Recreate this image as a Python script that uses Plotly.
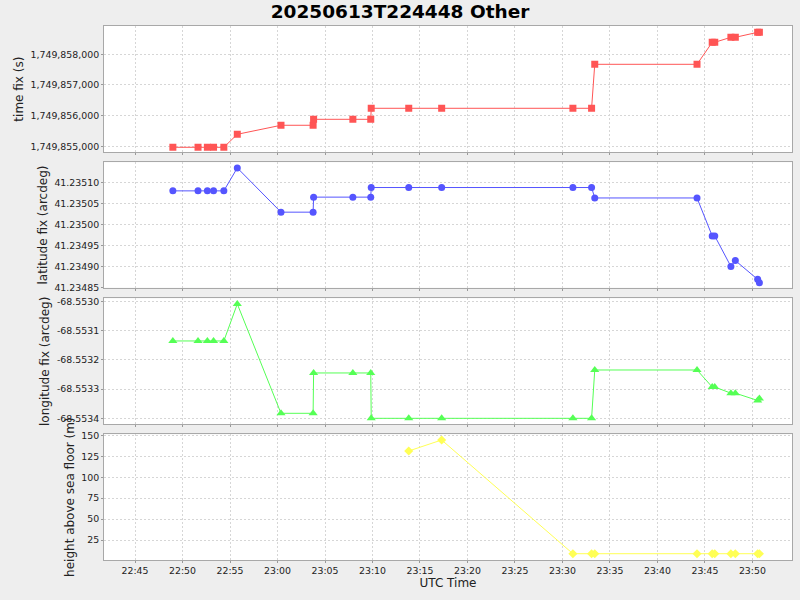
import plotly.graph_objects as go
from plotly.subplots import make_subplots

title_text = "20250613T224448 Other"
day = "2025-06-13 "

times = ["22:48:59", "22:51:38", "22:52:37", "22:53:16", "22:54:21", "22:55:46",
         "23:00:22", "23:03:45", "23:03:48", "23:07:56", "23:09:49", "23:09:52",
         "23:13:49", "23:17:17", "23:31:06", "23:33:04", "23:33:24", "23:44:10",
         "23:45:46", "23:46:02", "23:47:44", "23:48:12", "23:50:33", "23:50:44"]

time_fix = [1749854967, 1749854967, 1749854967, 1749854967, 1749854967, 1749855391,
            1749855685, 1749855685, 1749855880, 1749855880, 1749855880, 1749856239,
            1749856239, 1749856239, 1749856239, 1749856239, 1749857674, 1749857674,
            1749858391, 1749858391, 1749858554, 1749858554, 1749858717, 1749858717]

latitude = [41.235081, 41.235081, 41.235081, 41.235081, 41.235081, 41.235136,
            41.235030, 41.235030, 41.235066, 41.235066, 41.235066, 41.235089,
            41.235089, 41.235089, 41.235089, 41.235089, 41.235064, 41.235064,
            41.234973, 41.234973, 41.234900, 41.234914, 41.234869, 41.234861]

longitude = [-68.5531356, -68.5531356, -68.5531356, -68.5531356, -68.5531356, -68.5530091,
             -68.5533829, -68.5533829, -68.5532450, -68.5532450, -68.5532450, -68.5534000,
             -68.5534000, -68.5534000, -68.5534000, -68.5534000, -68.5532348, -68.5532348,
             -68.5532930, -68.5532930, -68.5533140, -68.5533140, -68.5533390, -68.5533320]

height = [None, None, None, None, None, None,
          None, None, None, None, None, None,
          131.3, 144.4, 8.7, 8.7, 8.7, 8.7,
          8.7, 8.7, 8.7, 8.7, 8.7, 8.7]

time_fix_ticks = [1749855000, 1749856000, 1749857000, 1749858000]
time_fix_labels = ["1,749,855,000", "1,749,856,000", "1,749,857,000", "1,749,858,000"]
lat_ticks = [41.23485, 41.23490, 41.23495, 41.23500, 41.23505, 41.23510]
lat_labels = ["41.23485", "41.23490", "41.23495", "41.23500", "41.23505", "41.23510"]
lon_ticks = [-68.5534, -68.5533, -68.5532, -68.5531, -68.5530]
lon_labels = ["-68.5534", "-68.5533", "-68.5532", "-68.5531", "-68.5530"]
height_ticks = [25, 50, 75, 100, 125, 150]
height_labels = ["25", "50", "75", "100", "125", "150"]

y_titles = ["time fix (s)", "latitude fix (arcdeg)", "longitude fix (arcdeg)",
            "height above sea floor (m)"]
x_title = "UTC Time"

x = [day + t for t in times]

FONT = "DejaVu Sans"
TICK_FONT = dict(family=FONT, size=9.4, color="#222222")
fig = make_subplots(rows=4, cols=1, shared_xaxes=True, vertical_spacing=0.02)

series = [
    (time_fix, "#FF5555", "square", 7),
    (latitude, "#5555FF", "circle", 7),
    (longitude, "#55FF55", "triangle-up", 8),
    (height, "#FFFF55", "diamond", 7),
]
for i, (vals, col, sym, sz) in enumerate(series):
    fig.add_trace(go.Scatter(x=x, y=vals, mode="lines+markers",
                             line=dict(color=col, width=1),
                             marker=dict(color=col, symbol=sym, size=sz, line=dict(width=0)),
                             showlegend=False), row=i + 1, col=1)

domains = [[0.7635, 1.0], [0.5099, 0.7448], [0.2541, 0.4901], [0.0, 0.2354]]
yranges = [[1749854804, 1749858923], [41.234849, 41.2351495],
           [-68.5534205, -68.5529897], [1.2, 151.2]]
yticks = [(time_fix_ticks, time_fix_labels), (lat_ticks, lat_labels),
          (lon_ticks, lon_labels), (height_ticks, height_labels)]

axis_common = dict(showline=True, linecolor="#A8A8A8", linewidth=1, mirror=True,
                   showgrid=True, gridcolor="#D6D6D6", griddash="2px,2px", gridwidth=1,
                   ticks="outside", ticklen=2, tickcolor="#999999",
                   tickfont=TICK_FONT, zeroline=False, automargin=False)

for i in range(4):
    yk = "yaxis" if i == 0 else f"yaxis{i+1}"
    xk = "xaxis" if i == 0 else f"xaxis{i+1}"
    fig.layout[yk].update(domain=domains[i], range=yranges[i],
                          tickmode="array", tickvals=yticks[i][0], ticktext=yticks[i][1],
                          title=dict(text=y_titles[i], font=dict(family=FONT, size=12, color="#222222"),
                                     standoff=4),
                          **axis_common)
    fig.layout[xk].update(range=[day + "22:41:44", day + "23:54:10"], type="date",
                          dtick=300000, tick0=day + "22:45:00", tickformat="%H:%M",
                          **axis_common)

fig.layout["xaxis4"].update(title=dict(text=x_title, font=dict(family=FONT, size=12, color="#222222"),
                                       standoff=2))

fig.update_layout(
    width=800, height=600,
    paper_bgcolor="#EEEEEE", plot_bgcolor="#FFFFFF",
    margin=dict(l=104, r=8, t=26, b=40),
    title=dict(text="<b>" + title_text + "</b>", x=0.5, xanchor="center",
               y=1 - 12 / 600, yanchor="middle", yref="container",
               font=dict(family=FONT, size=18.5, color="#000000")),
    font=dict(family=FONT),
    hovermode=False,
)

fig.write_html("out.html", config={"displayModeBar": False},
               post_script="document.body.style.margin='0px';document.body.style.overflow='hidden';")
